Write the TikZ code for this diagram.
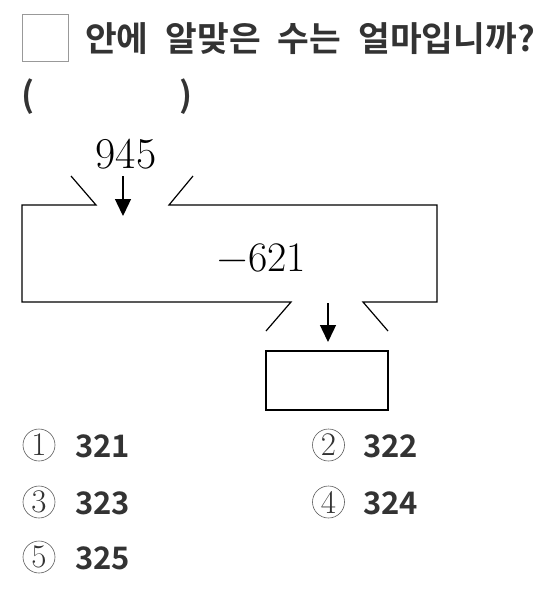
\documentclass[tikz,border=0pt]{standalone}
\usepackage{fontspec}
\newfontfamily\kr{Noto Sans CJK KR}[BoldFont={Noto Sans CJK KR Bold}]
\usetikzlibrary{arrows.meta}
\definecolor{txt}{HTML}{333333}
\newcommand{\wsp}{\hspace{17pt}}
\tikzset{
  line/.style={line width=1.2pt, black},
  arr/.style={line width=1.4pt, -{Triangle[length=17pt,width=16pt]}},
  circnum/.style={draw=txt!80, line width=0.6pt, circle, minimum size=32pt, inner sep=0pt, text=txt, font=\fontsize{33}{33}\selectfont},
  choice/.style={anchor=west, inner sep=0pt, text=txt, font=\kr\bfseries\fontsize{31}{31}\selectfont},
  title/.style={anchor=west, inner sep=0pt, text=txt, font=\kr\bfseries\fontsize{34.5}{34.5}\selectfont},
}
\begin{document}
\begin{tikzpicture}[x=1pt,y=-1pt]
\useasboundingbox (0,0) rectangle (536,590);
% title
\node[draw=gray!80, line width=0.8pt, minimum width=46pt, minimum height=47pt, inner sep=0pt] (blank) at (45,37.5) {};
\node[title] (q) at (85,39) {안에\wsp 알맞은\wsp 수는\wsp 얼마입니까?};
\node[title] (lp) at (21,97) {(};
\node[title] (rp) at (179,97) {)};
% machine
\node[inner sep=0pt, font=\fontsize{44}{44}\selectfont] (in) at (126,154) {945};
\draw[line] (71,176) -- (96,205) -- (22,205) -- (22,302) -- (291,302) -- (266,331);
\draw[line] (193,176) -- (169,205) -- (437,205) -- (437,302) -- (363,302) -- (388,331);
\node[inner sep=0pt, font=\fontsize{42}{42}\selectfont] (op) at (262,258) {−621};
\coordinate (a1s) at (123,176);
\coordinate (a1e) at (123,216);
\draw[arr] (a1s) -- (a1e);
\node[draw, line width=1.2pt, minimum width=122pt, minimum height=59pt, inner sep=0pt] (ans) at (327,380.5) {};
\coordinate (a2s) at (328,303);
\coordinate (a2e) at (328,342);
\draw[arr] (a2s) -- (a2e);
% choices
\node[circnum] (c1) at (39,445) {1};
\node[choice] (t1) at (75,446) {321};
\node[circnum] (c2) at (328.5,445) {2};
\node[choice] (t2) at (363,446) {322};
\node[circnum] (c3) at (39,502) {3};
\node[choice] (t3) at (75,503) {323};
\node[circnum] (c4) at (328.5,502) {4};
\node[choice] (t4) at (363,503) {324};
\node[circnum] (c5) at (39,557) {5};
\node[choice] (t5) at (75,558) {325};
\end{tikzpicture}
\end{document}
